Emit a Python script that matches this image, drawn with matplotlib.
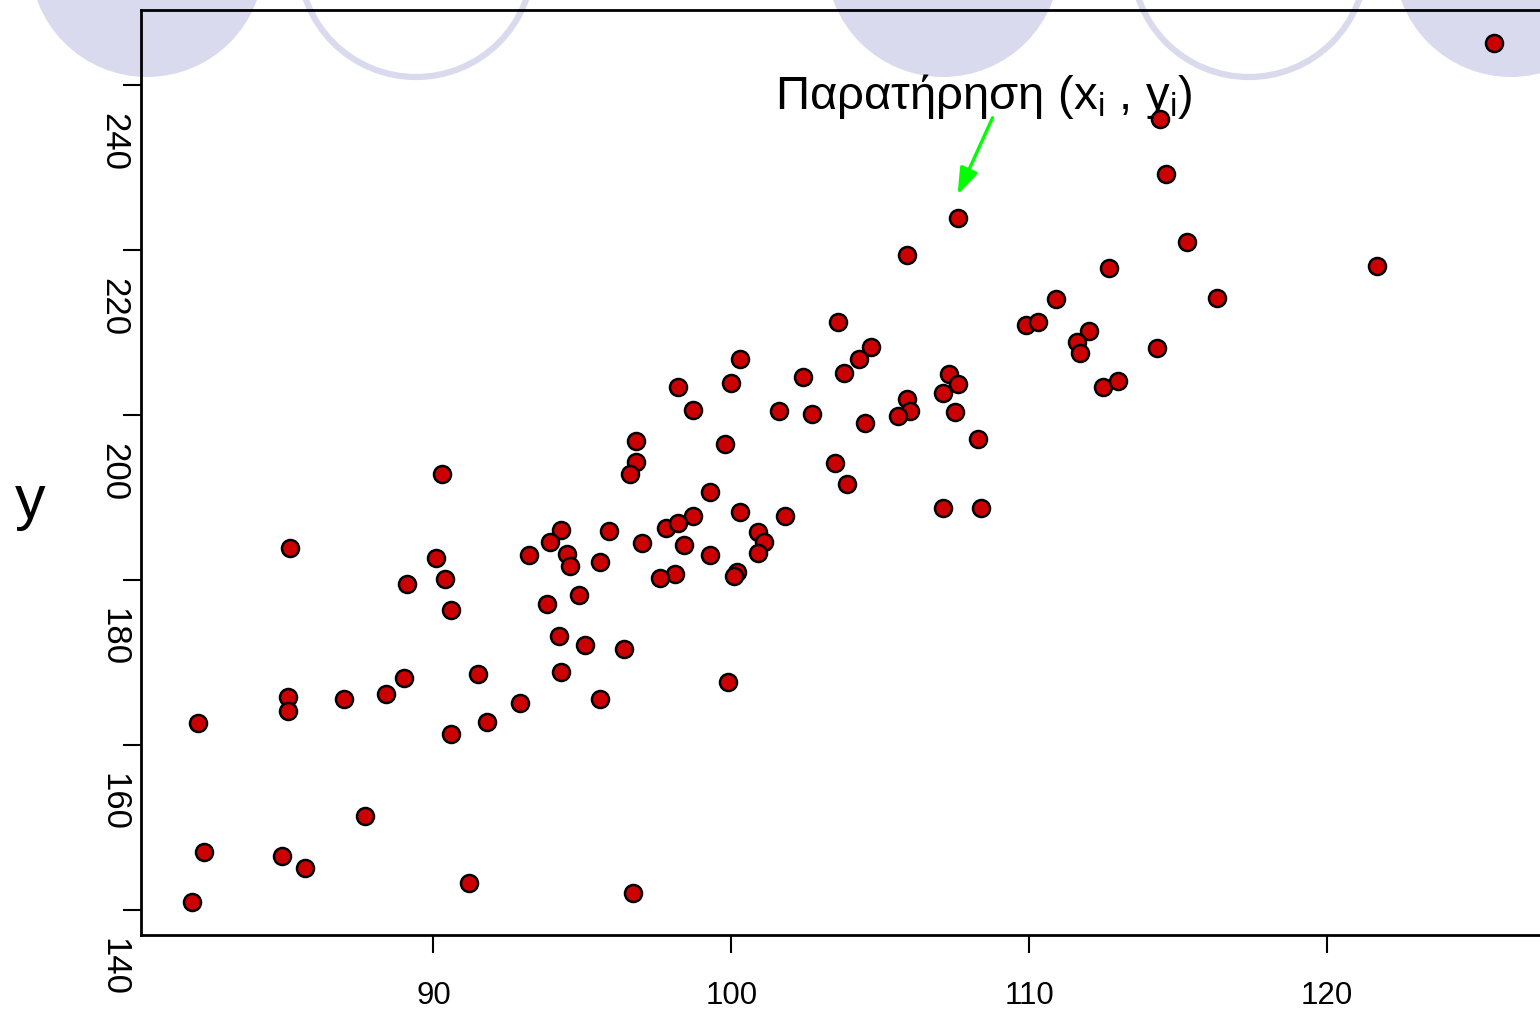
import matplotlib
matplotlib.use("Agg")
import matplotlib.pyplot as plt
from matplotlib.patches import Ellipse
from matplotlib.transforms import ScaledTranslation

plt.rcParams['font.family'] = ['Liberation Sans', 'DejaVu Sans']
plt.rcParams['mathtext.default'] = 'regular'

x_vals = [125.6, 114.4, 114.6, 107.6, 115.3, 105.9, 112.7, 121.7, 116.3, 110.9,
          109.9, 110.3, 103.6, 112.0, 111.6, 111.7, 114.3, 104.7, 100.3, 104.3,
          103.8, 107.3, 102.4, 98.2, 100.0, 107.6, 112.5, 113.0, 107.1, 105.9,
          106.0, 107.5, 101.6, 98.7, 102.7, 105.6, 104.5, 108.3, 96.8, 99.8,
          96.8, 103.5, 90.3, 96.6, 103.9, 99.3, 107.1, 108.4, 100.3, 98.7,
          101.8, 97.8, 98.2, 94.3, 95.9, 100.9, 101.1, 97.0, 93.9, 85.2,
          93.2, 98.4, 94.5, 99.3, 100.9, 90.1, 94.6, 95.6, 100.2, 100.1,
          98.1, 97.6, 90.4, 89.1, 94.9, 93.8, 90.6, 94.2, 95.1, 96.4,
          91.5, 94.3, 89.0, 99.9, 85.1, 87.0, 88.4, 95.6, 85.1, 92.9,
          82.1, 91.8, 90.6, 87.7, 82.3, 84.9, 85.7, 91.2, 96.7, 81.9]
y_vals = [245.1, 235.9, 229.2, 223.9, 221.0, 219.4, 217.8, 218.0, 214.2, 214.0,
          210.9, 211.3, 211.3, 210.2, 208.8, 207.5, 208.1, 208.2, 206.8, 206.8,
          205.1, 204.9, 204.6, 203.4, 203.9, 203.7, 203.4, 204.1, 202.6, 201.9,
          200.5, 200.3, 200.5, 200.6, 200.1, 199.9, 199.0, 197.1, 196.8, 196.5,
          194.3, 194.2, 192.8, 192.8, 191.6, 190.6, 188.7, 188.7, 188.2, 187.7,
          187.7, 186.3, 186.9, 186.0, 185.9, 185.8, 184.6, 184.5, 184.6, 183.8,
          183.0, 184.2, 183.1, 183.0, 183.2, 182.6, 181.7, 182.1, 180.9, 180.4,
          180.7, 180.2, 180.1, 179.5, 178.1, 177.1, 176.3, 173.2, 172.1, 171.6,
          168.6, 168.8, 168.1, 167.6, 165.8, 165.5, 166.1, 165.5, 164.1, 165.0,
          162.6, 162.7, 161.3, 151.3, 147.0, 146.5, 145.0, 143.2, 142.0, 140.9]

x_ticks = [90, 100, 110, 120]
y_ticks = [140, 160, 180, 200, 220, 240]
highlight = 3  # the observation the arrow points at

W, H = 1540, 1017
fig = plt.figure(figsize=(W / 100, H / 100), dpi=100)
fig.patch.set_facecolor('white')

# slide decoration circles (behind the chart)
lav = '#dadaee'
for cx, filled in [(147, True), (416, False), (943, True), (1249, False), (1511, True)]:
    e = Ellipse((cx, H + 40), 234, 234, transform=None, zorder=-5,
                facecolor=lav if filled else 'none', edgecolor=lav,
                linewidth=0 if filled else 4.5)
    fig.add_artist(e)

ax = fig.add_axes([141 / W, 82 / H, (1560 - 141) / W, 925 / H])
ax.set_facecolor('none')
ax.set_xlim(80.18, 127.83)
ax.set_ylim(136.91, 249.10)
ax.spines['right'].set_visible(False)
for s in ax.spines.values():
    s.set_linewidth(2.0)

ax.scatter(x_vals, y_vals, s=150, c='#cc0000', edgecolors='black',
           linewidths=1.8, zorder=4, clip_on=False)

ax.set_xticks(x_ticks)
ax.set_xticklabels([str(t) for t in x_ticks], fontsize=22.5)
ax.tick_params(axis='x', length=13, width=1.5, pad=20, direction='out')
ax.set_yticks(y_ticks)
ax.set_yticklabels([])
ax.tick_params(axis='y', length=13, width=1.5, direction='out')

# y tick labels: rotated, hanging below their ticks
off = ScaledTranslation(-0.27, -0.57, fig.dpi_scale_trans)
for t in y_ticks:
    ax.text(0, t, str(t), transform=ax.get_yaxis_transform() + off,
            rotation=270, ha='center', va='center', fontsize=25)

fig.text(30 / W, 1 - 518 / H, 'y', fontsize=44, ha='center', va='baseline')

ax.text(775 / W, 1 - 109 / H, r'Παρατήρηση (x$_i$ , y$_i$)',
        transform=fig.transFigure, fontsize=34, ha='left', va='baseline', zorder=2)

# arrow tip sits a little above the observation
tip = ax.transData + ScaledTranslation(0, 0.23, fig.dpi_scale_trans)
ax.annotate('', xy=(x_vals[highlight], y_vals[highlight]), xycoords=tip,
            xytext=(35, 77), textcoords='offset pixels',
            arrowprops=dict(arrowstyle='-|>,head_length=0.8,head_width=0.28',
                            color='#00ff00', lw=2.4, mutation_scale=20,
                            shrinkA=0, shrinkB=0), zorder=3)

fig.savefig('out.png', dpi=100)
